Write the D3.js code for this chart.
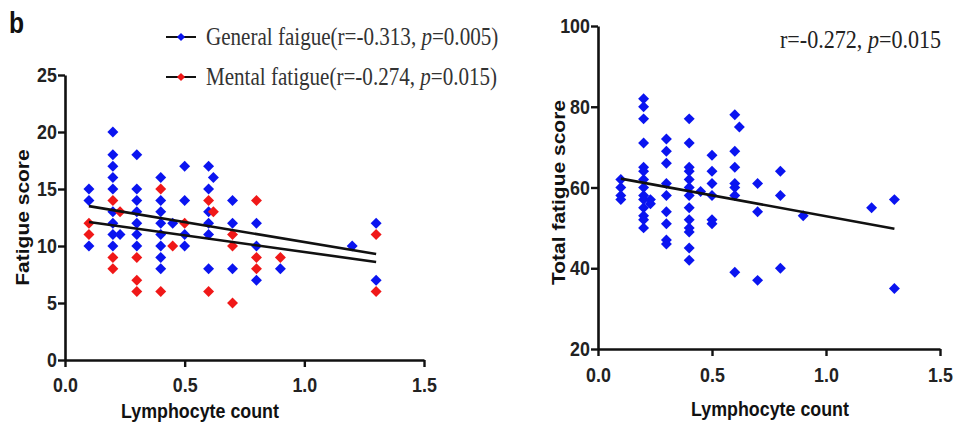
<!DOCTYPE html>
<html>
<head>
<meta charset="utf-8">
<script src="https://cdn.jsdelivr.net/npm/d3@7"></script>
<style>
  html, body { margin: 0; padding: 0; background: #ffffff; }
  svg { display: block; }
</style>
</head>
<body>
<svg id="chart" width="953" height="427"></svg>
<script>
// ---------- DATA ----------
const xTicks = [0, 0.5, 1.0, 1.5];
const yTicksLeft = [0, 5, 10, 15, 20, 25];
const yTicksRight = [20, 40, 60, 80, 100];

// Left panel: General fatigue (blue)
const generalLymph = [
  0.1, 0.1, 0.1,
  0.2, 0.2, 0.2, 0.2, 0.2, 0.2, 0.2, 0.2, 0.2,
  0.23,
  0.3, 0.3, 0.3, 0.3, 0.3, 0.3, 0.3,
  0.4, 0.4, 0.4, 0.4, 0.4, 0.4, 0.4, 0.4,
  0.45,
  0.5, 0.5, 0.5, 0.5,
  0.6, 0.6, 0.6, 0.6, 0.6, 0.6,
  0.62,
  0.7, 0.7, 0.7,
  0.8, 0.8, 0.8,
  0.9,
  1.2,
  1.3, 1.3
];
const generalScore = [
  15, 14, 10,
  20, 18, 17, 16, 15, 13, 12, 11, 10,
  11,
  18, 15, 14, 13, 12, 11, 10,
  16, 14, 13, 12, 11, 10, 9, 8,
  12,
  17, 14, 11, 10,
  17, 15, 13, 12, 11, 8,
  16,
  14, 12, 8,
  12, 10, 7,
  8,
  10,
  12, 7
];

// Left panel: Mental fatigue (red)
const mentalLymph = [
  0.1, 0.1,
  0.2, 0.2, 0.2,
  0.23,
  0.3, 0.3, 0.3,
  0.4, 0.4,
  0.45,
  0.5,
  0.6, 0.6,
  0.62,
  0.7, 0.7, 0.7,
  0.8, 0.8, 0.8,
  0.9,
  1.3, 1.3
];
const mentalScore = [
  12, 11,
  14, 9, 8,
  13,
  9, 7, 6,
  15, 6,
  10,
  12,
  14, 6,
  13,
  11, 10, 5,
  14, 9, 8,
  9,
  11, 6
];

// Regression line end points (x, fitted y)
const generalFitX = [0.1, 1.3];
const generalFitY = [13.5, 9.3];
const mentalFitX = [0.1, 1.3];
const mentalFitY = [12.1, 8.6];

// Right panel: Total fatigue (blue)
const totalLymph = [
  0.1, 0.1, 0.1, 0.1,
  0.2, 0.2, 0.2, 0.2, 0.2, 0.2, 0.2, 0.2, 0.2, 0.2, 0.2, 0.2, 0.2, 0.2,
  0.23, 0.23,
  0.3, 0.3, 0.3, 0.3, 0.3, 0.3, 0.3, 0.3, 0.3,
  0.4, 0.4, 0.4, 0.4, 0.4, 0.4, 0.4, 0.4, 0.4, 0.4, 0.4, 0.4, 0.4,
  0.45,
  0.5, 0.5, 0.5, 0.5, 0.5, 0.5,
  0.6, 0.6, 0.6, 0.6, 0.6, 0.6, 0.6,
  0.62,
  0.7, 0.7, 0.7,
  0.8, 0.8, 0.8,
  0.9,
  1.2,
  1.3, 1.3
];
const totalScore = [
  62, 60, 58, 57,
  82, 80, 77, 71, 65, 64, 62, 60, 58, 57, 55, 53, 52, 50,
  57, 56,
  72, 69, 66, 61, 58, 54, 51, 47, 46,
  77, 71, 65, 64, 62, 60, 58, 55, 52, 50, 49, 45, 42,
  59,
  68, 64, 61, 58, 52, 51,
  78, 69, 65, 61, 60, 58, 39,
  75,
  61, 54, 37,
  64, 58, 40,
  53,
  55,
  57, 35
];
const totalFitX = [0.1, 1.3];
const totalFitY = [62.2, 49.8];

// Text
const panelLetter = "b";
const legendLabels = ["General faigue(r=-0.313, ", "Mental fatigue(r=-0.274, "];
const legendP = ["=0.005)", "=0.015)"];
const rightAnnot = ["r=-0.272, ", "p", "=0.015"];

// ---------- DRAW ----------
const svg = d3.select("#chart");
const BLUE = "#0a14f0";
const RED = "#f01818";
const sansBold = "'Liberation Sans', Arial, sans-serif";
const serif = "'Liberation Serif', 'Times New Roman', serif";
const SQ = 0.85; // the figure's text is horizontally condensed

const diamond = d3.symbol().type(d3.symbolSquare).size(60);

function drawAxes(g, x, y, yTicks, xPad) {
  const xa = g.append("g")
    .attr("transform", `translate(0,${y.range()[0]})`)
    .call(d3.axisBottom(x).tickValues(xTicks).tickFormat(d3.format(".1f")).tickSize(7).tickSizeOuter(0).tickPadding(xPad));
  const ya = g.append("g")
    .attr("transform", `translate(${x.range()[0]},0)`)
    .call(d3.axisLeft(y).tickValues(yTicks).tickSize(7).tickSizeOuter(0).tickPadding(2.5));
  [xa, ya].forEach(a => {
    a.select(".domain").attr("stroke", "#111").attr("stroke-width", 2.6);
    a.selectAll(".tick line").attr("stroke", "#111").attr("stroke-width", 2.4);
    a.selectAll(".tick text")
      .attr("fill", "#222")
      .attr("transform", `scale(${SQ},1)`)
      .style("font-family", sansBold)
      .style("font-weight", "bold")
      .style("font-size", "21px");
  });
}

function drawPoints(g, x, y, xs, ys, color) {
  g.append("g").selectAll("path")
    .data(xs.map((d, i) => [d, ys[i]]))
    .join("path")
    .attr("d", diamond)
    .attr("fill", color)
    .attr("transform", d => `translate(${x(d[0])},${y(d[1])}) rotate(45)`);
}

function drawFit(g, x, y, fx, fy) {
  g.append("path")
    .datum(fx.map((d, i) => [d, fy[i]]))
    .attr("fill", "none")
    .attr("stroke", "#111")
    .attr("stroke-width", 2.6)
    .attr("d", d3.line().x(d => x(d[0])).y(d => y(d[1])));
}

function title(g, txt, px, py, rotated) {
  return g.append("text")
    .attr("transform", `translate(${px},${py}) scale(${SQ},1)` + (rotated ? " rotate(-90)" : ""))
    .attr("text-anchor", "middle")
    .style("font-family", sansBold).style("font-weight", "bold").style("font-size", "21px")
    .attr("fill", "#111")
    .text(txt);
}

// ----- Left panel -----
const xL = d3.scaleLinear().domain([0, 1.5]).range([65, 424]);
const yL = d3.scaleLinear().domain([0, 25]).range([360, 75]);
const gL = svg.append("g");
drawAxes(gL, xL, yL, yTicksLeft, 10);
drawPoints(gL, xL, yL, generalLymph, generalScore, BLUE);
drawPoints(gL, xL, yL, mentalLymph, mentalScore, RED);
drawFit(gL, xL, yL, generalFitX, generalFitY);
drawFit(gL, xL, yL, mentalFitX, mentalFitY);

title(gL, "Fatigue score", 29, (yL.range()[0] + yL.range()[1]) / 2, true);
title(gL, "Lymphocyte count", 200, 418, false);

// Panel letter
svg.append("text")
  .attr("transform", `translate(9,33) scale(${SQ},1)`)
  .style("font-family", sansBold).style("font-weight", "bold").style("font-size", "29px")
  .attr("fill", "#111")
  .text(panelLetter);

// Legend
const legendColors = [BLUE, RED];
const legendY = [37, 77];
legendLabels.forEach((lab, i) => {
  const lg = svg.append("g").attr("transform", `translate(0,${legendY[i]})`);
  lg.append("line").attr("x1", 166).attr("x2", 196).attr("y1", 0).attr("y2", 0)
    .attr("stroke", "#111").attr("stroke-width", 2);
  lg.append("path").attr("d", d3.symbol().type(d3.symbolSquare).size(34)()).attr("fill", legendColors[i])
    .attr("transform", "translate(181,0) rotate(45)");
  const t = lg.append("text")
    .attr("transform", `translate(206,8) scale(${SQ},1)`)
    .style("font-family", serif).style("font-size", "24.8px").attr("fill", "#333");
  t.append("tspan").text(lab);
  t.append("tspan").style("font-style", "italic").text("p");
  t.append("tspan").text(legendP[i]);
});

// ----- Right panel -----
const xR = d3.scaleLinear().domain([0, 1.5]).range([598, 940]);
const yR = d3.scaleLinear().domain([20, 100]).range([349, 26]);
const gR = svg.append("g");
drawAxes(gR, xR, yR, yTicksRight, 11);
drawPoints(gR, xR, yR, totalLymph, totalScore, BLUE);
drawFit(gR, xR, yR, totalFitX, totalFitY);

title(gR, "Total fatigue score", 565, (yR.range()[0] + yR.range()[1]) / 2 + 5, true);
title(gR, "Lymphocyte count", 770, 416, false);

const ann = svg.append("text")
  .attr("transform", `translate(780,48) scale(${SQ},1)`)
  .style("font-family", serif).style("font-size", "26px").attr("fill", "#222");
ann.append("tspan").text(rightAnnot[0]);
ann.append("tspan").style("font-style", "italic").text(rightAnnot[1]);
ann.append("tspan").text(rightAnnot[2]);
</script>
</body>
</html>
